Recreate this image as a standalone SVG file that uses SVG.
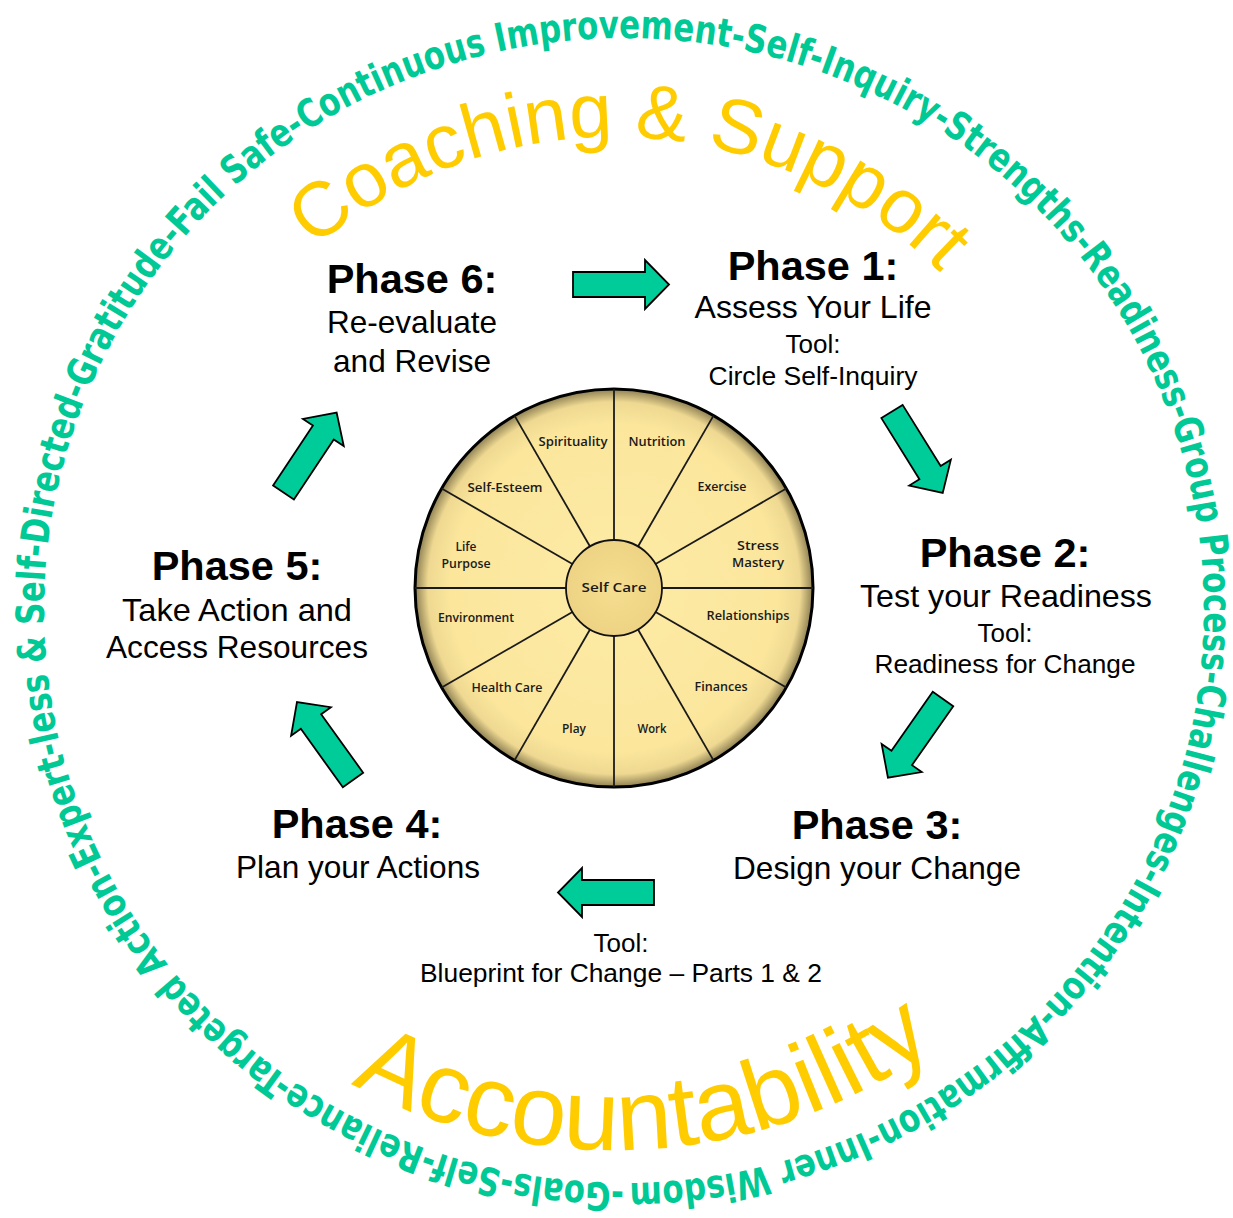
<svg xmlns="http://www.w3.org/2000/svg" xmlns:xlink="http://www.w3.org/1999/xlink" width="1233" height="1218" viewBox="0 0 1233 1218">
<style>
.ring{font-family:"DejaVu Sans Condensed","DejaVu Sans",sans-serif;font-weight:bold;font-size:39px;fill:#00C996}
.big{font-family:"Liberation Sans",Arial,sans-serif;fill:#FFCC00}
.ph{font-family:"Liberation Sans",Arial,sans-serif;font-weight:bold;font-size:41.5px;fill:#000;text-anchor:middle}
.ds{font-family:"Liberation Sans",Arial,sans-serif;font-size:31.5px;fill:#000;text-anchor:middle}
.tl{font-family:"Liberation Sans",Arial,sans-serif;font-size:26px;fill:#000;text-anchor:middle}
.lb{font-family:"Open Sans","DejaVu Sans",sans-serif;font-weight:600;font-size:13px;fill:#1a1a1a;text-anchor:middle}
.arr{fill:#00CC99;stroke:#000;stroke-width:1.8;stroke-linejoin:miter}
.spoke{stroke:#1a1a1a;stroke-width:1.8}
</style>
<defs>
<path id="ringPath" d="M624,1183 A580,572.5 0 1 1 624,38 A580,572.5 0 1 1 624,1183"/>
<path id="topArc" d="M154,597 A460,460 0 0 1 1074,597"/>
<path id="botArc" d="M64,600 A550,550 0 0 0 1164,600"/>
<path id="arrowShape" d="M0,-12.5 H72 V-24.5 L96,0 L72,24.5 V12.5 H0 Z"/>
<radialGradient id="wheelFill" cx="614" cy="588" r="200" gradientUnits="userSpaceOnUse">
<stop offset="0" stop-color="#FDEBA6"/>
<stop offset="0.82" stop-color="#FBE69C"/>
<stop offset="0.93" stop-color="#EFD992"/>
<stop offset="0.985" stop-color="#9C8D5C"/>
<stop offset="1" stop-color="#4A432C"/>
</radialGradient>
<radialGradient id="hubFill" cx="614" cy="588" r="48" gradientUnits="userSpaceOnUse">
<stop offset="0" stop-color="#F6DE90"/>
<stop offset="1" stop-color="#EDD383"/>
</radialGradient>
<line id="spokeLine" x1="614" y1="540" x2="614" y2="389" class="spoke"/>
</defs>
<rect width="1233" height="1218" fill="#fff"/>

<g id="ring-text">
<text class="ring"><textPath href="#ringPath" textLength="3615" lengthAdjust="spacingAndGlyphs">-Goals-Self-Reliance-Targeted Action-Expert-less &amp; Self-Directed-Gratitude-Fail Safe-Continuous Improvement-Self-Inquiry-Strengths-Readiness-Group Process-Challenges-Intention-Affirmation-Inner Wisdom</textPath></text>
</g>

<g id="coaching-support">
<text class="big" font-size="77"><textPath href="#topArc" startOffset="51.25%" text-anchor="middle">Coaching &amp; Support</textPath></text>
</g>

<g id="accountability">
<text class="big" font-size="100"><textPath href="#botArc" startOffset="52%" text-anchor="middle">Accountability</textPath></text>
</g>

<g id="wheel">
<circle cx="614" cy="588" r="199" fill="url(#wheelFill)" stroke="#000" stroke-width="3"/>
<use href="#spokeLine"/>
<use href="#spokeLine" transform="rotate(30 614 588)"/>
<use href="#spokeLine" transform="rotate(60 614 588)"/>
<use href="#spokeLine" transform="rotate(90 614 588)"/>
<use href="#spokeLine" transform="rotate(120 614 588)"/>
<use href="#spokeLine" transform="rotate(150 614 588)"/>
<use href="#spokeLine" transform="rotate(180 614 588)"/>
<use href="#spokeLine" transform="rotate(210 614 588)"/>
<use href="#spokeLine" transform="rotate(240 614 588)"/>
<use href="#spokeLine" transform="rotate(270 614 588)"/>
<use href="#spokeLine" transform="rotate(300 614 588)"/>
<use href="#spokeLine" transform="rotate(330 614 588)"/>
<circle cx="614" cy="588" r="48" fill="url(#hubFill)" stroke="#111" stroke-width="1.8"/>
<text class="lb" x="614" y="592" font-size="15.5" textLength="65" lengthAdjust="spacingAndGlyphs">Self Care</text>
<text class="lb" x="573" y="446" textLength="69" lengthAdjust="spacingAndGlyphs">Spirituality</text>
<text class="lb" x="657" y="446" textLength="57" lengthAdjust="spacingAndGlyphs">Nutrition</text>
<text class="lb" x="505" y="492" textLength="75" lengthAdjust="spacingAndGlyphs">Self-Esteem</text>
<text class="lb" x="722" y="491" textLength="49" lengthAdjust="spacingAndGlyphs">Exercise</text>
<text class="lb" x="466" y="551" textLength="21" lengthAdjust="spacingAndGlyphs">Life</text>
<text class="lb" x="466" y="568" textLength="49" lengthAdjust="spacingAndGlyphs">Purpose</text>
<text class="lb" x="758" y="550" textLength="42" lengthAdjust="spacingAndGlyphs">Stress</text>
<text class="lb" x="758" y="567" textLength="52" lengthAdjust="spacingAndGlyphs">Mastery</text>
<text class="lb" x="476" y="622" textLength="76" lengthAdjust="spacingAndGlyphs">Environment</text>
<text class="lb" x="748" y="620" textLength="83" lengthAdjust="spacingAndGlyphs">Relationships</text>
<text class="lb" x="507" y="692" textLength="71" lengthAdjust="spacingAndGlyphs">Health Care</text>
<text class="lb" x="721" y="691" textLength="53" lengthAdjust="spacingAndGlyphs">Finances</text>
<text class="lb" x="574" y="733" textLength="24" lengthAdjust="spacingAndGlyphs">Play</text>
<text class="lb" x="652" y="733" textLength="29" lengthAdjust="spacingAndGlyphs">Work</text>
</g>

<g id="phase1">
<text class="ph" x="813" y="280">Phase 1:</text>
<text class="ds" x="813" y="318" textLength="237" lengthAdjust="spacingAndGlyphs">Assess Your Life</text>
<text class="tl" x="813" y="353">Tool:</text>
<text class="tl" x="813" y="385" textLength="209" lengthAdjust="spacingAndGlyphs">Circle Self-Inquiry</text>
</g>

<g id="phase2">
<text class="ph" x="1005" y="567">Phase 2:</text>
<text class="ds" x="1006" y="607" textLength="292" lengthAdjust="spacingAndGlyphs">Test your Readiness</text>
<text class="tl" x="1005" y="642">Tool:</text>
<text class="tl" x="1005" y="673" textLength="261" lengthAdjust="spacingAndGlyphs">Readiness for Change</text>
</g>

<g id="phase3">
<text class="ph" x="877" y="839">Phase 3:</text>
<text class="ds" x="877" y="879" textLength="288" lengthAdjust="spacingAndGlyphs">Design your Change</text>
<text class="tl" x="621" y="952">Tool:</text>
<text class="tl" x="621" y="982" textLength="402" lengthAdjust="spacingAndGlyphs">Blueprint for Change – Parts 1 &amp; 2</text>
</g>

<g id="phase4">
<text class="ph" x="357" y="838">Phase 4:</text>
<text class="ds" x="358" y="878" textLength="244" lengthAdjust="spacingAndGlyphs">Plan your Actions</text>
</g>

<g id="phase5">
<text class="ph" x="237" y="580">Phase 5:</text>
<text class="ds" x="237" y="621" textLength="230" lengthAdjust="spacingAndGlyphs">Take Action and</text>
<text class="ds" x="237" y="658" textLength="262" lengthAdjust="spacingAndGlyphs">Access Resources</text>
</g>

<g id="phase6">
<text class="ph" x="412" y="293">Phase 6:</text>
<text class="ds" x="412" y="333" textLength="170" lengthAdjust="spacingAndGlyphs">Re-evaluate</text>
<text class="ds" x="412" y="372" textLength="158" lengthAdjust="spacingAndGlyphs">and Revise</text>
</g>

<g id="connectors">
<use href="#arrowShape" class="arr" transform="translate(573,284.5)"/>
<use href="#arrowShape" class="arr" transform="translate(892,411.5) rotate(58.1)"/>
<use href="#arrowShape" class="arr" transform="translate(943,699) rotate(125)"/>
<use href="#arrowShape" class="arr" transform="translate(654,892.5) rotate(180)"/>
<use href="#arrowShape" class="arr" transform="translate(353,780) rotate(-125.7)"/>
<use href="#arrowShape" class="arr" transform="translate(283.5,492.5) rotate(-56.4)"/>
</g>
</svg>
